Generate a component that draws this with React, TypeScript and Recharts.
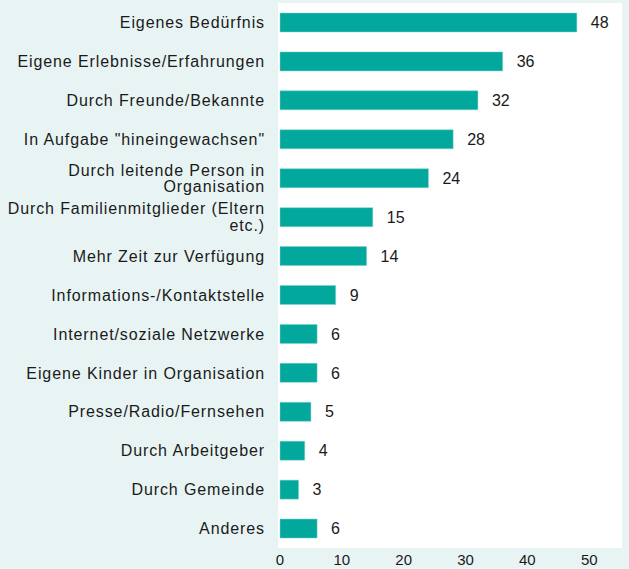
import React from "react";
import { BarChart, Bar, XAxis, YAxis, LabelList } from "recharts";

// ---------------------------------------------------------------------------
// Daten
// ---------------------------------------------------------------------------
const categories = [
  "Eigenes Bedürfnis",
  "Eigene Erlebnisse/Erfahrungen",
  "Durch Freunde/Bekannte",
  'In Aufgabe "hineingewachsen"',
  "Durch leitende Person in Organisation",
  "Durch Familienmitglieder (Eltern etc.)",
  "Mehr Zeit zur Verfügung",
  "Informations-/Kontaktstelle",
  "Internet/soziale Netzwerke",
  "Eigene Kinder in Organisation",
  "Presse/Radio/Fernsehen",
  "Durch Arbeitgeber",
  "Durch Gemeinde",
  "Anderes",
];

const values = [48, 36, 32, 28, 24, 15, 14, 9, 6, 6, 5, 4, 3, 6];

const xTicks = [0, 10, 20, 30, 40, 50];

const data = categories.map((label, i) => ({ label, value: values[i] }));

// ---------------------------------------------------------------------------
// Stil
// ---------------------------------------------------------------------------
const FONT = "'Liberation Sans', Arial, sans-serif";
const BAR_COLOR = "#02a89c";
const PAGE_BG = "#e8f4f4";
const TEXT_COLOR = "#1a1a1a";
const LABEL_SIZE = 16;
const LETTER_SPACING = 0.9;
const MAX_LABEL_WIDTH = 268;
const LINE_HEIGHT = 16.7;

let ctx: CanvasRenderingContext2D | null = null;
function textWidth(s: string) {
  if (!ctx) {
    ctx = document.createElement("canvas").getContext("2d");
    if (ctx) ctx.font = `${LABEL_SIZE}px ${FONT}`;
  }
  const w = ctx ? ctx.measureText(s).width : s.length * LABEL_SIZE * 0.5;
  return w + s.length * LETTER_SPACING;
}

// einfacher Zeilenumbruch nach Wörtern
function wrap(label: string): string[] {
  const words = label.split(" ");
  const lines: string[] = [];
  let cur = "";
  for (const w of words) {
    const next = cur ? cur + " " + w : w;
    if (cur && textWidth(next) > MAX_LABEL_WIDTH) {
      lines.push(cur);
      cur = w;
    } else {
      cur = next;
    }
  }
  if (cur) lines.push(cur);
  return lines;
}

function CategoryTick(props: any) {
  const { x, y, payload } = props;
  const lines = wrap(String(payload.value));
  const first = y - ((lines.length - 1) / 2) * LINE_HEIGHT + 5.7;
  return (
    <text
      x={x}
      y={first}
      textAnchor="end"
      style={{ fontFamily: FONT, fontSize: LABEL_SIZE, fill: TEXT_COLOR, letterSpacing: LETTER_SPACING }}
    >
      {lines.map((l, i) => (
        <tspan key={i} x={x} y={first + i * LINE_HEIGHT}>
          {l}
        </tspan>
      ))}
    </text>
  );
}

export default function App() {
  return (
    <div style={{ position: "absolute", left: 0, top: 0, width: 629, height: 569, background: PAGE_BG }}>
      {/* weiße Plotfläche, etwas breiter als der Balkenbereich */}
      <div style={{ position: "absolute", left: 278, top: 3, width: 344, height: 545, background: "#ffffff" }} />
      <div style={{ position: "absolute", left: 0, top: 0 }}>
        <BarChart
          width={629}
          height={569}
          data={data}
          layout="vertical"
          margin={{ top: 3, right: 7, bottom: 0, left: 0 }}
          barSize={19}
        >
          <XAxis
            type="number"
            domain={[0, 55.3]}
            ticks={xTicks}
            axisLine={false}
            tickLine={false}
            height={21}
            tickSize={0}
            tickMargin={6}
            tick={{ fontFamily: FONT, fontSize: 15, fill: TEXT_COLOR }}
          />
          <YAxis
            type="category"
            dataKey="label"
            width={280}
            axisLine={false}
            tickLine={false}
            tickSize={0}
            tickMargin={15}
            interval={0}
            tick={<CategoryTick />}
          />
          <Bar dataKey="value" fill={BAR_COLOR} stroke="#7fd3cd" strokeWidth={0.5} isAnimationActive={false}>
            <LabelList
              dataKey="value"
              position="right"
              offset={14}
              style={{ fontFamily: FONT, fontSize: 16, fill: TEXT_COLOR }}
            />
          </Bar>
        </BarChart>
      </div>
    </div>
  );
}
